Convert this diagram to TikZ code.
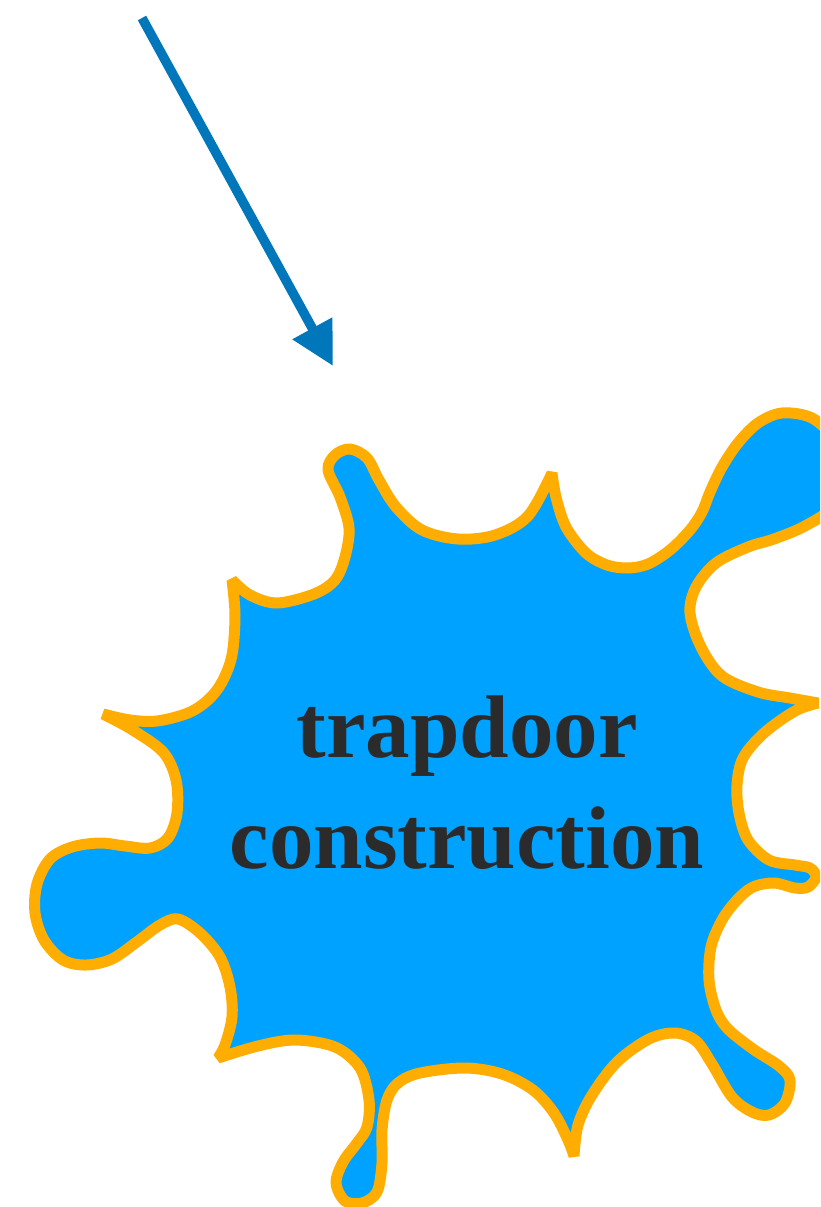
\documentclass[tikz,border=0pt]{standalone}
\usepackage{fontspec}
\setmainfont{Liberation Serif}
\usetikzlibrary{arrows.meta}
\definecolor{splashfill}{RGB}{0,162,255}
\definecolor{splashline}{RGB}{255,173,0}
\definecolor{arrowblue}{RGB}{0,119,187}
\definecolor{textgray}{RGB}{43,43,43}
\tikzset{
  splat/.style={fill=splashfill, draw=splashline, line width=11pt, line join=bevel},
  pointer/.style={draw=arrowblue, line width=9.5pt, -{Triangle[length=43pt,width=43pt]}},
  splattext/.style={text=textgray, font=\fontsize{89}{110}\selectfont\bfseries, anchor=base, inner sep=0pt}
}
\begin{document}
\begin{tikzpicture}[x=1pt,y=-1pt]
\useasboundingbox (0,0) rectangle (820,1207);
\clip (0,0) rectangle (820,1207);
\path[splat]
  (552,473)
  -- plot[smooth, tension=0.55] coordinates {(552,473) (528,516) (495,535) (458,539) (422,530) (396,507) (379,480) (367,458) (350,449) (335,455) (328,470) (340,497) (349,528) (345,557) (335,580) (314,594) (277,603) (250,595) (232,580)}
  -- plot[smooth, tension=0.55] coordinates {(232,580) (235,615) (232,655) (222,682) (208,700) (188,713) (157,721) (130,720) (103,714)}
  -- plot[smooth, tension=0.55] coordinates {(103,714) (131,729) (163,752) (176,780) (177,813) (168,838) (150,848) (125,846) (100,843) (72,847) (50,859) (37,884) (35,913) (44,940) (63,960) (86,965) (112,959) (138,941) (160,925) (178,919) (200,933) (220,957) (230,987) (232,1017) (225,1045) (218,1058)}
  -- plot[smooth, tension=0.55] coordinates {(218,1058) (258,1046) (295,1040) (335,1047) (360,1068) (369,1100) (367,1127) (357,1143) (343,1162) (336,1183) (345,1201) (362,1203) (377,1192) (382,1163) (382,1130) (387,1100) (398,1083) (420,1073) (465,1068) (502,1074) (533,1090) (554,1113) (568,1140) (574,1156)}
  -- plot[smooth, tension=0.55] coordinates {(574,1156) (578,1125) (592,1095) (617,1062) (649,1039) (675,1033) (696,1041) (712,1064) (732,1097) (752,1112) (769,1115) (785,1103) (790,1080) (779,1066) (753,1049) (728,1029) (716,1010) (709,980) (711,947) (722,920) (737,900) (753,887) (774,883) (795,888) (808,887) (816,877) (810,868) (795,865) (769,860) (748,840) (739,813) (737,785) (743,758) (764,733) (795,711) (818,703)}
  -- plot[smooth, tension=0.55] coordinates {(818,703) (790,698) (758,692) (722,676) (701,647) (690,613) (696,587) (716,563) (748,547) (774,539) (805,526) (835,505) (848,470) (835,440) (812,418) (782,413) (758,423) (738,443) (722,467) (710,492) (702,512) (690,530) (670,550) (648,564) (628,568) (607,565) (586,553) (566,527) (556,497) (552,473)}
  -- cycle;
\node[splattext] (t1) at (467,757) {trapdoor};
\node[splattext] (t2) at (467,868) {construction};
\coordinate (from) at (142,18);
\coordinate (to) at (333,366);
\draw[pointer] (from) -- (to);
\end{tikzpicture}
\end{document}
